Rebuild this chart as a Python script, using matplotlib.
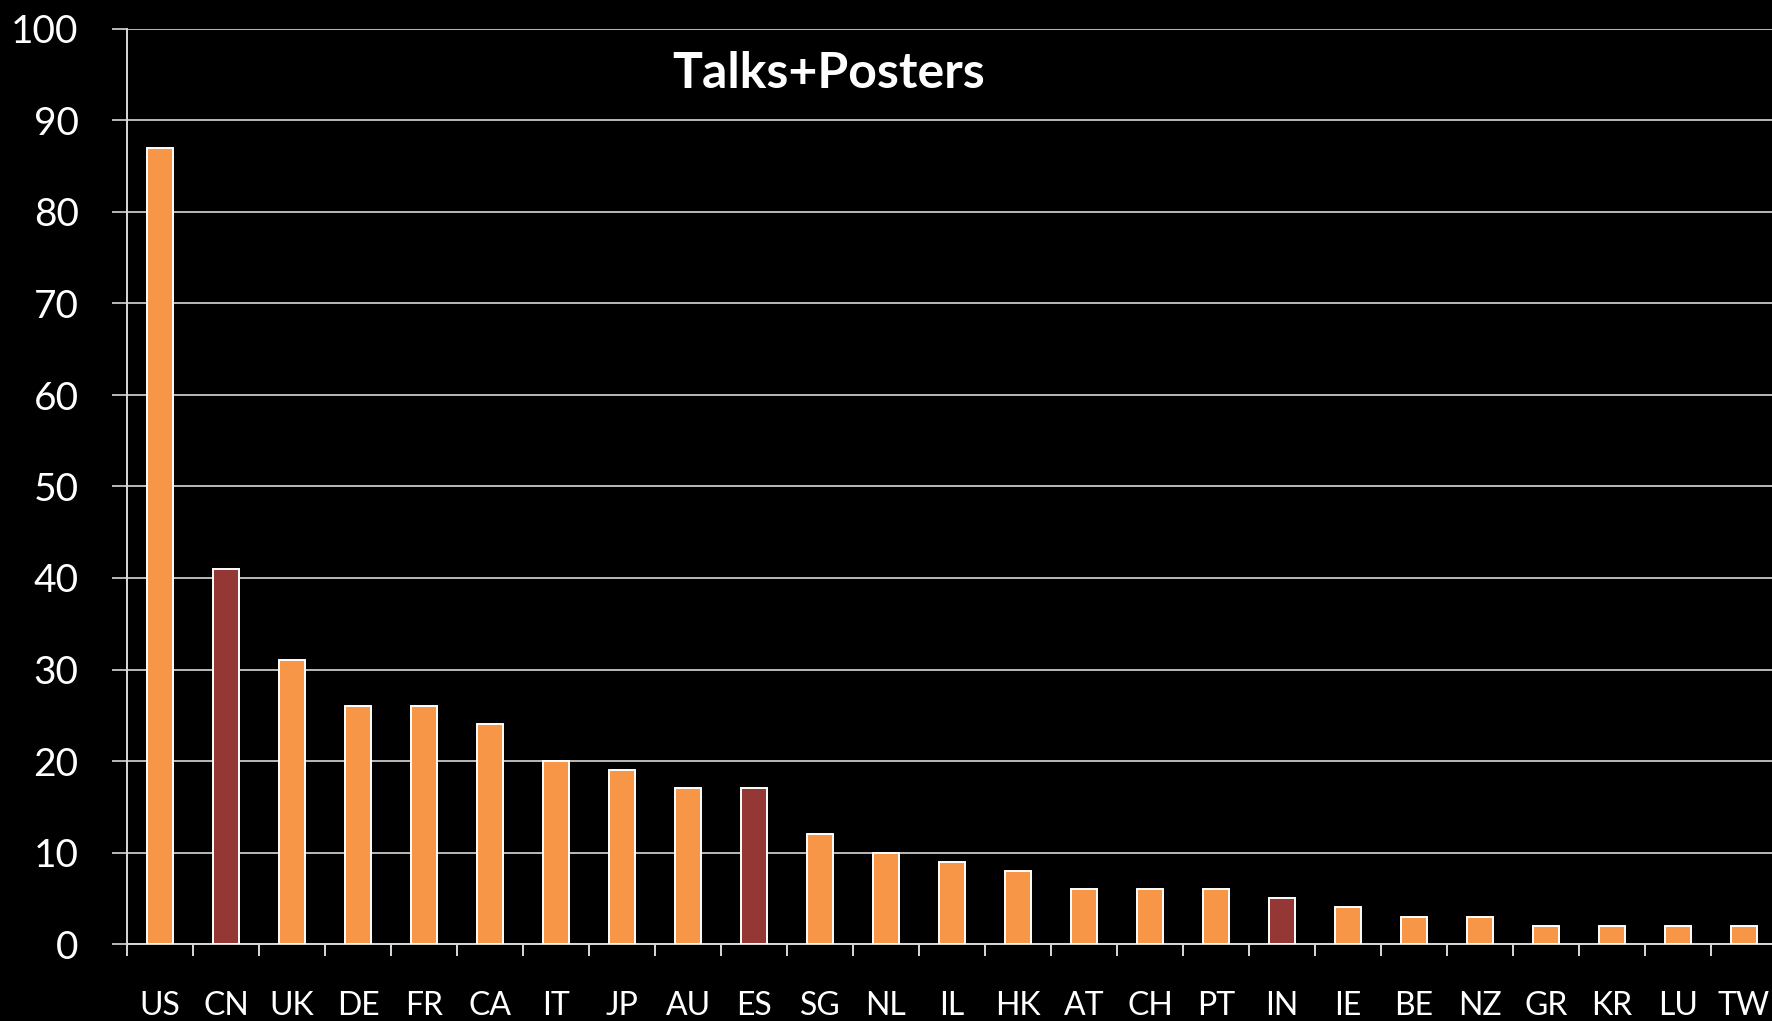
import matplotlib
matplotlib.use("Agg")
import matplotlib.pyplot as plt
import numpy as np

countries = ["US", "CN", "UK", "DE", "FR", "CA", "IT", "JP", "AU", "ES", "SG", "NL", "IL",
             "HK", "AT", "CH", "PT", "IN", "IE", "BE", "NZ", "GR", "KR", "LU", "TW"]
counts = [87, 41, 31, 26, 26, 24, 20, 19, 17, 17, 12, 10, 9, 8, 6, 6, 6, 5, 4, 3, 3, 2, 2, 2, 2]
highlight = ["CN", "ES", "IN"]  # drawn in dark red

orange = "#F79646"
darkred = "#953735"
bar_colors = [darkred if c in highlight else orange for c in countries]

plt.rcParams["font.family"] = ["Lato", "DejaVu Sans"]

W, H = 1772, 1021
fig = plt.figure(figsize=(W / 100, H / 100), dpi=100, facecolor="black")
# axes runs a little past the right edge of the figure, like the slide
ax = fig.add_axes([127 / W, 77 / H, 1650 / W, 915 / H], facecolor="black")

x = np.arange(len(countries))
ax.bar(x, counts, width=0.4, color=bar_colors, edgecolor="white", linewidth=1.4, zorder=3)

ax.set_xlim(-0.5, len(countries) - 0.5)
ax.set_ylim(0, 100)
ax.set_yticks(range(0, 101, 10))
ax.yaxis.grid(True, color="#d9d9d9", linewidth=1.2, zorder=0)

ax.set_xticks(x)
ax.set_xticklabels(countries)
ax.set_xticks(np.arange(len(countries) + 1) - 0.5, minor=True)

ax.tick_params(axis="x", which="major", length=0, pad=34, labelsize=23, colors="white")
ax.tick_params(axis="x", which="minor", length=8.6, width=1.4, color="#d9d9d9", direction="out")
ax.tick_params(axis="y", length=10.8, width=1.2, color="#d9d9d9", pad=24, labelsize=28,
               labelcolor="white")

for side in ["top", "right"]:
    ax.spines[side].set_visible(False)
for side in ["left", "bottom"]:
    ax.spines[side].set_color("#d9d9d9")
    ax.spines[side].set_linewidth(1.4)

fig.text(829 / W, 1 - 74 / H, "Talks+Posters", color="white", fontsize=36,
         fontweight="bold", ha="center", va="center")

fig.savefig("out.png", dpi=100, facecolor="black")
